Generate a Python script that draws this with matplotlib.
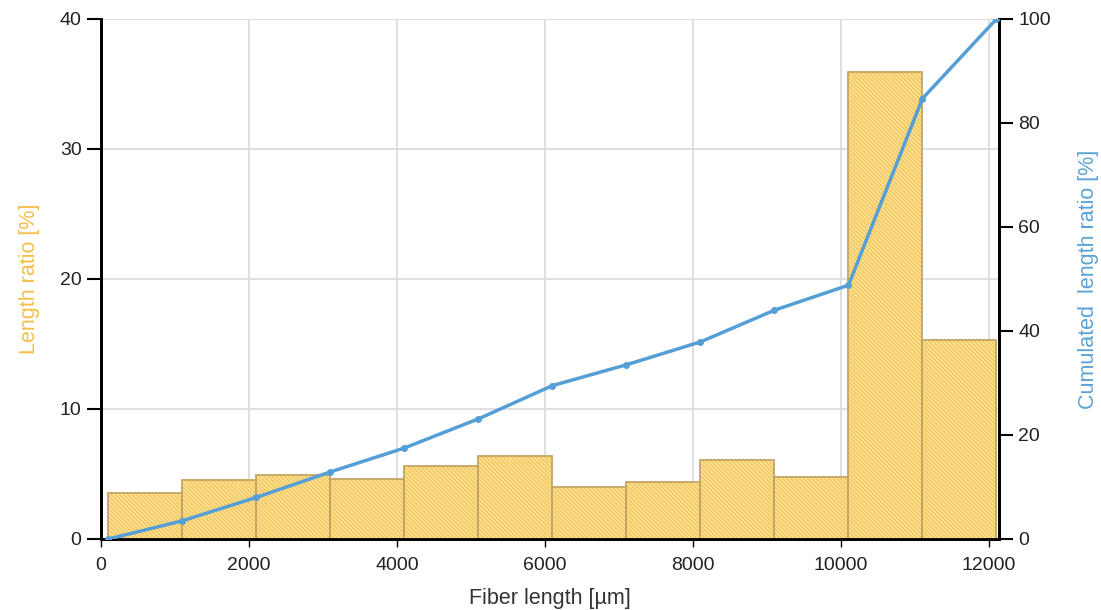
import matplotlib
matplotlib.use("Agg")
import matplotlib.pyplot as plt

plt.rcParams['font.family'] = ['Liberation Sans', 'DejaVu Sans']
plt.rcParams['hatch.linewidth'] = 1.0

bin_left = [100, 1100, 2100, 3100, 4100, 5100, 6100, 7100, 8100, 9100, 10100, 11100]
length_ratio = [3.5, 4.5, 4.9, 4.6, 5.6, 6.4, 4.0, 4.4, 6.1, 4.8, 35.9, 15.3]
cum_x = [100, 1100, 2100, 3100, 4100, 5100, 6100, 7100, 8100, 9100, 10100, 11100, 12100]
cum_ratio = [0, 3.5, 8.0, 12.9, 17.5, 23.1, 29.5, 33.5, 37.9, 44.0, 48.8, 84.7, 100]
x_ticks = [0, 2000, 4000, 6000, 8000, 10000, 12000]

fig = plt.figure(figsize=(11.01, 6.10), dpi=100)
ax = fig.add_axes([0.0917, 0.1164, 0.8157, 0.8525])
ax2 = ax.twinx()

# hatched fill (hatch drawn in edge colour, no outline)
ax.bar(bin_left, length_ratio, width=1000, align='edge', color='#FDE49A',
       edgecolor='#F2C45A', hatch='\\' * 8, linewidth=0, zorder=2)
# outline
ax.bar(bin_left, length_ratio, width=1000, align='edge', fill=False,
       edgecolor='#C4A564', linewidth=1.3, zorder=3)
ax.set_xlim(0, 12135)
ax.set_ylim(0, 40)
ax.set_xticks(x_ticks)
ax.set_yticks([0, 10, 20, 30, 40])
ax.grid(True, color='#dcdcdc', linewidth=1.3, zorder=0)
ax.set_axisbelow(True)

ax2.plot(cum_x, cum_ratio, color='#559FD6', linewidth=2.5, marker='o',
         markersize=4, zorder=5)
ax2.set_ylim(0, 100)
ax2.set_yticks([0, 20, 40, 60, 80, 100])

for a in (ax, ax2):
    a.spines['top'].set_visible(False)
    for s in ('left', 'right', 'bottom'):
        a.spines[s].set_linewidth(2)
        a.spines[s].set_color('black')
    a.tick_params(labelsize=14, width=1.5, length=10, pad=4, color='black', labelcolor='#222222')

ax.tick_params(axis='x', length=6, width=1.0, pad=7)
ax.set_xlabel('Fiber length [µm]', fontsize=15.5, color='#333333', labelpad=10)
ax.set_ylabel('Length ratio [%]', fontsize=15.5, color='#F4C048', labelpad=14)
ax2.set_ylabel('Cumulated  length ratio [%]', fontsize=15.5, color='#5BA3D5', labelpad=19)

fig.savefig('out.png', dpi=100)
